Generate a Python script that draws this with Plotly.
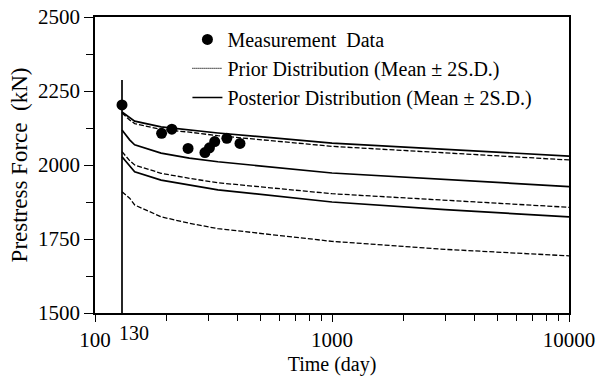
import plotly.graph_objects as go
import math

# ---- data ----
time = [130, 140, 147, 190, 250, 330, 1000, 3000, 10000]
post_upper = [2179, 2160, 2148, 2129, 2119, 2108, 2074, 2052, 2030]
prior_upper = [2176, 2152, 2140, 2120, 2111, 2099, 2063, 2042, 2017]
post_mean = [2118, 2085, 2068, 2040, 2023, 2011, 1973, 1950, 1927]
prior_mean = [2045, 2015, 2000, 1972, 1955, 1940, 1903, 1881, 1857]
post_lower = [2028, 1995, 1977, 1949, 1932, 1916, 1875, 1849, 1825]
prior_lower = [1910, 1888, 1865, 1825, 1803, 1785, 1742, 1715, 1693]

meas_time = [130, 191, 211, 247, 291, 304, 320, 360, 409]
meas_force = [2203, 2107, 2121, 2056, 2042, 2058, 2079, 2090, 2073]

start_time = [130, 130]
start_force = [1500, 2287]

x_tickvals = [100, 1000, 10000]
x_ticktext = ["100", "1000", "10000"]
y_tickvals = [1500, 1750, 2000, 2250, 2500]

FONT = "Liberation Serif, Times New Roman, serif"

fig = go.Figure()

# curves
for ys in (post_upper, post_mean, post_lower):
    fig.add_trace(go.Scatter(x=time, y=ys, mode="lines", showlegend=False,
                             line=dict(color="black", width=1.7), hoverinfo="skip"))
for ys in (prior_upper, prior_mean, prior_lower):
    fig.add_trace(go.Scatter(x=time, y=ys, mode="lines", showlegend=False,
                             line=dict(color="black", width=1.3, dash="5px,2px"),
                             hoverinfo="skip"))

fig.add_trace(go.Scatter(x=start_time, y=start_force, mode="lines", showlegend=False,
                         line=dict(color="black", width=1.7), hoverinfo="skip"))

# legend entries
fig.add_trace(go.Scatter(x=[None], y=[None], mode="lines", legendrank=2,
                         name="Prior Distribution (Mean ± 2S.D.)",
                         line=dict(color="black", width=1.2, dash="1px,1px")))
fig.add_trace(go.Scatter(x=[None], y=[None], mode="lines", legendrank=3,
                         name="Posterior Distribution (Mean ± 2S.D.)",
                         line=dict(color="black", width=1.6)))
fig.add_trace(go.Scatter(x=meas_time, y=meas_force, mode="markers", legendrank=1,
                         name="Measurement  Data",
                         marker=dict(color="black", size=11)))

fig.add_annotation(x=math.log10(130), y=-0.057, xref="x", yref="paper",
                   text="130", showarrow=False, xanchor="left", yanchor="middle",
                   xshift=-5, yshift=-3, font=dict(family=FONT, size=20, color="black"))

fig.update_layout(
    width=604, height=376,
    margin=dict(l=95, r=35, t=17, b=63),
    paper_bgcolor="white", plot_bgcolor="white",
    font=dict(family=FONT, size=20, color="black"),
    legend=dict(x=0.195, y=0.99, xanchor="left", yanchor="top",
                bgcolor="rgba(0,0,0,0)", font=dict(size=20),
                itemwidth=30, tracegroupgap=0),
    xaxis=dict(type="log", range=[2, 4], tickvals=x_tickvals, ticktext=x_ticktext,
               automargin=False,
               ticks="outside", ticklen=7, tickwidth=1, tickcolor="black",
               showline=True, linecolor="black", linewidth=1.5, mirror=True,
               showgrid=False, zeroline=False,
               minor=dict(dtick="D1", ticks="outside", ticklen=6, tickcolor="black",
                          showgrid=False),
               tickfont=dict(size=21),
               title=dict(text="Time (day)", font=dict(size=20), standoff=9)),
    yaxis=dict(range=[1500, 2500], tickvals=y_tickvals, automargin=False,
               ticks="outside", ticklen=9, tickwidth=1, tickcolor="black",
               showline=True, linecolor="black", linewidth=1.5, mirror=True,
               showgrid=False, zeroline=False,
               minor=dict(dtick=125, ticks="outside", ticklen=7, tickcolor="black",
                          showgrid=False),
               tickfont=dict(size=21),
               title=dict(text="Prestress Force  (kN)", font=dict(size=23), standoff=4)),
)

fig.write_html("out.html")
